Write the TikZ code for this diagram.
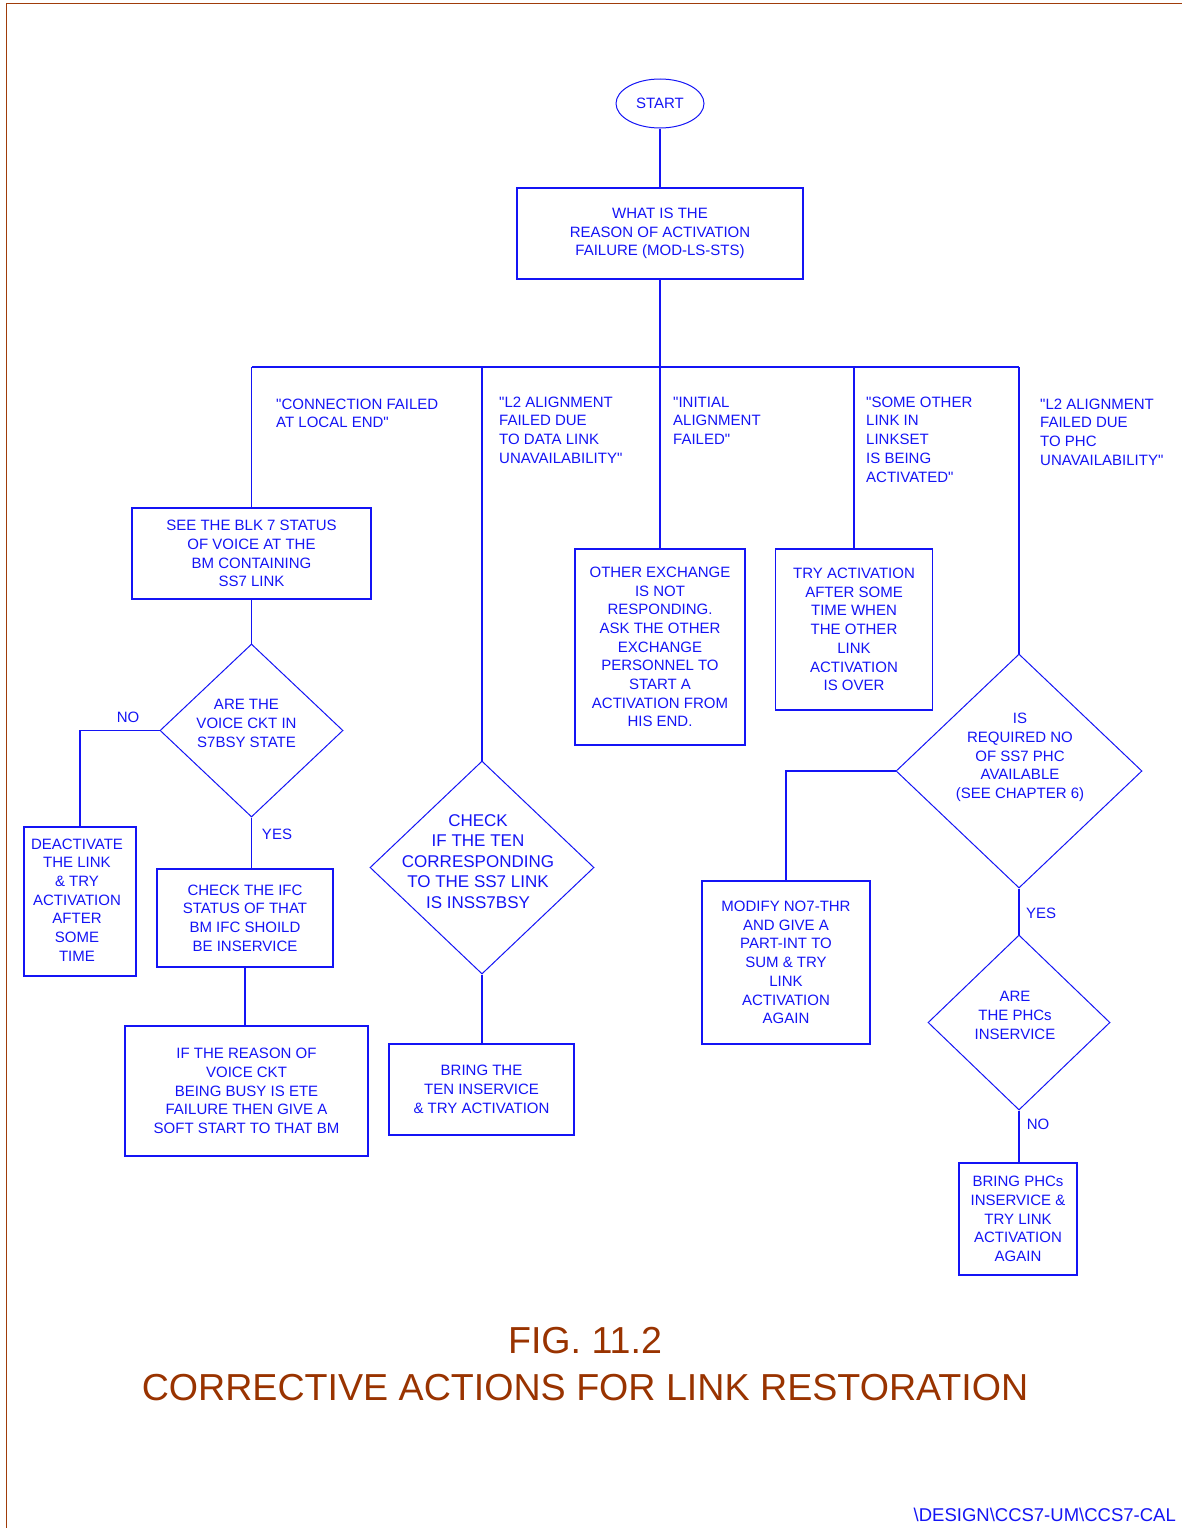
\documentclass[tikz,border=0pt]{standalone}
\usepackage{fontspec}
\setmainfont{Liberation Sans}[Ligatures=TeXOff]
\usetikzlibrary{shapes.geometric}
\definecolor{fblue}{RGB}{20,20,245}
\definecolor{fbrown}{RGB}{160,60,10}
\definecolor{ftitle}{RGB}{153,51,0}
\newcommand{\dtext}[3]{\makebox[0pt]{\hspace*{#1}\raisebox{#2}[0pt][0pt]{\begin{tabular}{@{}c@{}}#3\end{tabular}}}}
\tikzset{
  every node/.style={text=fblue, font=\fontsize{15}{18.7}\selectfont},
  box/.style={draw=fblue, line width=1.6pt, rectangle, align=center, inner sep=0pt},
  dia/.style={draw=fblue, line width=1pt, diamond, inner sep=0pt},
  oval/.style={draw=fblue, line width=1pt, ellipse, inner sep=0pt},
  lbl/.style={align=left, inner sep=0pt, anchor=north west},
  yn/.style={inner sep=0pt},
  conn/.style={draw=fblue, line width=1.2pt},
}
\begin{document}
\begin{tikzpicture}[x=1pt,y=-1pt]
\useasboundingbox (0,0) rectangle (1182,1528);
% frame
\draw[fbrown, line width=1.5pt] (1182,3.5) -- (6.3,3.5) -- (6.3,1528);

% nodes
\node[oval, minimum width=88pt, minimum height=49pt] (start) at (660,103.5) {START};
\node[box, minimum width=286pt, minimum height=91pt] (what) at (660,233.5) {WHAT IS THE\\REASON OF ACTIVATION\\FAILURE (MOD-LS-STS)};

\coordinate (j1) at (251.5,367);
\coordinate (j2) at (482,367);
\coordinate (j3) at (660,367);
\coordinate (j4) at (854,367);
\coordinate (j5) at (1019,367);

\node[lbl] (lconn) at (276,398.6) {"CONNECTION FAILED\\AT LOCAL END"};
\node[lbl] (ldata) at (499,396.6) {"L2 ALIGNMENT\\FAILED DUE\\TO DATA LINK\\UNAVAILABILITY"};
\node[lbl] (linit) at (673,396.6) {"INITIAL\\ALIGNMENT\\FAILED"};
\node[lbl] (lsome) at (866,396.6) {"SOME OTHER\\LINK IN\\LINKSET\\IS BEING\\ACTIVATED"};
\node[lbl] (lphc) at (1040,398.6) {"L2 ALIGNMENT\\FAILED DUE\\TO PHC\\UNAVAILABILITY"};

\node[box, minimum width=239pt, minimum height=91pt] (see) at (251.5,553.5) {SEE THE BLK 7 STATUS\\OF VOICE AT THE\\BM CONTAINING\\SS7 LINK};
\node[dia, minimum width=183pt, minimum height=173pt] (voice) at (251.5,730.5) {\dtext{-10pt}{2.1pt}{ARE THE\\VOICE CKT IN\\S7BSY STATE}};
\node[box, minimum width=112pt, minimum height=149pt] (deact) at (80,901.5) {\hspace*{-6pt}\begin{tabular}{@{}c@{}}DEACTIVATE\\THE LINK\\\& TRY\\ACTIVATION\\AFTER\\SOME\\TIME\end{tabular}};
\node[box, minimum width=176pt, minimum height=98pt] (ifc) at (245,918) {CHECK THE IFC\\STATUS OF THAT\\BM IFC SHOILD\\BE INSERVICE};
\node[box, minimum width=243pt, minimum height=130pt] (reason) at (246.5,1091) {IF THE REASON OF\\VOICE CKT\\BEING BUSY IS ETE\\FAILURE THEN GIVE A\\SOFT START TO THAT BM};

\node[dia, minimum width=224pt, minimum height=213pt, font=\fontsize{17}{20.6}\selectfont] (check) at (482,867.5) {\dtext{-8pt}{0pt}{CHECK\\IF THE TEN\\CORRESPONDING\\TO THE SS7 LINK\\IS INSS7BSY}};
\node[box, minimum width=185pt, minimum height=91pt] (bringten) at (481.5,1089.5) {BRING THE\\TEN INSERVICE\\\& TRY ACTIVATION};

\node[box, minimum width=170pt, minimum height=196pt] (other) at (660,647) {OTHER EXCHANGE\\IS NOT\\RESPONDING.\\ASK THE OTHER\\EXCHANGE\\PERSONNEL TO\\START A\\ACTIVATION FROM\\HIS END.};
\node[box, minimum width=157pt, minimum height=161pt] (try) at (854,629.5) {TRY ACTIVATION\\AFTER SOME\\TIME WHEN\\THE OTHER\\LINK\\ACTIVATION\\IS OVER};

\node[dia, minimum width=246pt, minimum height=234pt] (isreq) at (1019,771) {\dtext{2pt}{10.1pt}{IS\\REQUIRED NO\\OF SS7 PHC\\AVAILABLE\\(SEE CHAPTER 6)}};
\node[box, minimum width=168pt, minimum height=163pt] (modify) at (786,962.5) {MODIFY NO7-THR\\AND GIVE A\\PART-INT TO\\SUM \& TRY\\LINK\\ACTIVATION\\AGAIN};
\node[dia, minimum width=182pt, minimum height=175pt] (phcs) at (1019,1022.5) {\dtext{-8pt}{2.1pt}{ARE\\THE PHCs\\INSERVICE}};
\node[box, minimum width=118pt, minimum height=112pt] (bringphc) at (1018,1219) {BRING PHCs\\INSERVICE \&\\TRY LINK\\ACTIVATION\\AGAIN};

% yes / no labels
\node[yn] (no1) at (128,717) {NO};
\node[yn] (yes1) at (277,834) {YES};
\node[yn] (yes2) at (1041,913) {YES};
\node[yn] (no2) at (1038,1124) {NO};

% connectors
\draw[conn] (start.south) -- (what.north);
\draw[conn] (what.south) -- (j3);
\draw[conn] (j1) -- (j5);
\draw[conn] (j1) -- (see.north);
\draw[conn] (j2) -- (check.north);
\draw[conn] (j3) -- (other.north);
\draw[conn] (j4) -- (try.north);
\draw[conn] (j5) -- (isreq.north);
\draw[conn] (see.south) -- (voice.north);
\draw[conn] (voice.west) -| (deact.north);
\draw[conn] (voice.south) -- (voice.south |- ifc.north);
\draw[conn] (ifc.south) -- (ifc.south |- reason.north);
\draw[conn] (check.south) -- (check.south |- bringten.north);
\draw[conn] (isreq.west) -| (modify.north);
\draw[conn] (isreq.south) -- (phcs.north);
\draw[conn] (phcs.south) -- (phcs.south |- bringphc.north);

% title and footer
\node[text=ftitle, font=\fontsize{37.6}{47}\selectfont, align=center, inner sep=0pt] (title) at (585,1364.5) {FIG. 11.2\\CORRECTIVE ACTIONS FOR LINK RESTORATION};
\node[font=\fontsize{18.5}{22}\selectfont, anchor=east, inner sep=0pt] (footer) at (1176,1515) {\textbackslash DESIGN\textbackslash CCS7-UM\textbackslash CCS7-CAL};
\end{tikzpicture}
\end{document}
